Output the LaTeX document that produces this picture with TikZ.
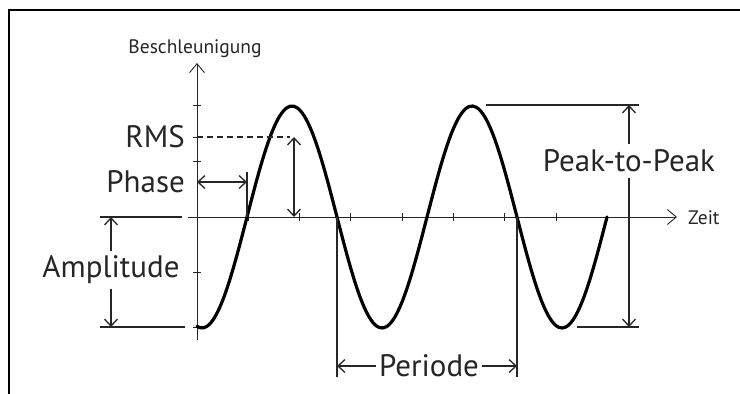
\documentclass[tikz,border=0pt]{standalone}
\usepackage{fontspec}
\setmainfont{PT Sans}
\usetikzlibrary{arrows.meta,positioning,calc}

\begin{document}
\begin{tikzpicture}[x=1pt,y=-1pt,
    big/.style={font=\fontsize{31}{33}\selectfont, text=black!85},
    small/.style={font=\fontsize{19.5}{22}\selectfont, text=black!85},
    axis/.style={line width=0.9pt, black!85},
    axistip/.style={axis, -{Straight Barb[length=9pt,width=15pt]}},
    dim/.style={line width=1.3pt, black!85},
    dimtip/.style={dim, -{Straight Barb[length=7pt,width=13pt]}},
    dimboth/.style={dim, {Straight Barb[length=7pt,width=13pt]}-{Straight Barb[length=7pt,width=13pt]}},
    wave/.style={line width=3.2pt, line cap=round}]
    \useasboundingbox (0,0) rectangle (740,394);

    % Frame
    \draw[line width=2pt] (740,10) -- (9,10) -- (9,394);

    % Axes
    \coordinate (O) at (197,217);
    \coordinate (ytop) at (197,63);
    \coordinate (ybot) at (197,340);
    \coordinate (xl) at (188,217);
    \coordinate (xr) at (677,217);
    \draw[axistip] (ybot) -- (ytop);
    \draw[axistip] (xl) -- (xr);
    \node[small, anchor=base, inner sep=0pt] (ylab) at (195,53) {Beschleunigung};
    \node[small, anchor=west, inner sep=0pt] (xlab) at (688,218) {Zeit};

    % Ticks
    \foreach \y in {105,137,161,272,327}
        \draw[axis] (193,\y) -- (201,\y);
    \foreach \k in {1,...,7}
        \draw[axis] ($(O)+(51.3*\k,-4)$) -- ++(0,8);

    % Signal
    \draw[wave] plot[domain=197:607, samples=120, smooth] (\x,{217+111*cos(2*(\x-202))});

    % RMS
    \coordinate (rmsl) at (197,137);
    \coordinate (rmsr) at (290,137);
    \coordinate (rmstop) at (294,137);
    \coordinate (rmsbot) at (294,217);
    \node[big, anchor=east, inner sep=0pt] (rms) at (185,137) {RMS};
    \draw[dim, dashed, dash pattern=on 6pt off 4pt] (rmsl) -- (rmsr);
    \draw[dimboth] (rmsbot) -- (rmstop);

    % Phase
    \coordinate (phl) at (197,182);
    \coordinate (phr) at (247,182);
    \coordinate (phtop) at (247,172);
    \coordinate (phbot) at (247,217);
    \node[big, anchor=east, inner sep=0pt] (phase) at (185,182) {Phase};
    \draw[dim] (phtop) -- (phbot);
    \draw[dimboth] (phl) -- (phr);

    % Amplitude
    \coordinate (amtl) at (100,217);
    \coordinate (amtr) at (182,217);
    \coordinate (ambl) at (100,327);
    \coordinate (ambr) at (185,327);
    \draw[dim] (amtl) -- (amtr);
    \draw[dim] (ambl) -- (ambr);
    \node[big, inner sep=5pt] (ampl) at (111,270) {Amplitude};
    \draw[dimtip] (ampl) -- (111,217);
    \draw[dimtip] (ampl) -- (111,327);

    % Peak-to-Peak
    \coordinate (pptl) at (486,105);
    \coordinate (pptr) at (639,105);
    \coordinate (ppbl) at (577,327);
    \coordinate (ppbr) at (639,327);
    \draw[dim] (pptl) -- (pptr);
    \draw[dim] (ppbl) -- (ppbr);
    \node[big, inner sep=6pt] (ptp) at (629,161) {Peak-to-Peak};
    \draw[dimtip] (ptp) -- (629,105);
    \draw[dimtip] (ptp) -- (629,327);

    % Periode
    \coordinate (pel) at (337,217);
    \coordinate (pelb) at (337,377);
    \coordinate (per) at (517,217);
    \coordinate (perb) at (517,377);
    \draw[dim] (pel) -- (pelb);
    \draw[dim] (per) -- (perb);
    \node[big, inner sep=3pt] (periode) at (429,366) {Periode};
    \draw[dimtip] (periode) -- (337,366);
    \draw[dimtip] (periode) -- (517,366);
\end{tikzpicture}
\end{document}
